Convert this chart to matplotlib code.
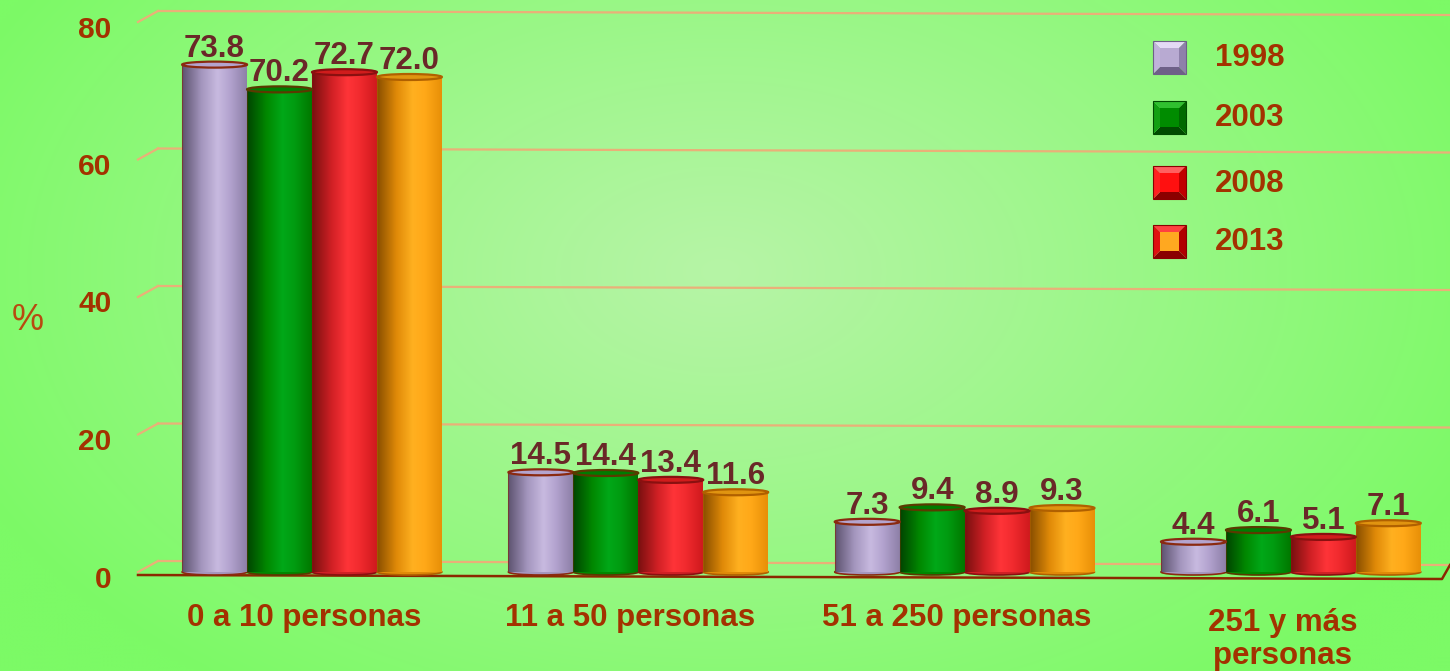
import numpy as np
import matplotlib
matplotlib.use('Agg')
import matplotlib.pyplot as plt
from matplotlib.patches import Ellipse, Polygon, Rectangle
from matplotlib.colors import LinearSegmentedColormap, to_rgb
from matplotlib.transforms import ScaledTranslation

plt.rcParams['font.family'] = ['Liberation Sans', 'DejaVu Sans']

categories = ['0 a 10 personas', '11 a 50 personas', '51 a 250 personas', '251 y más\npersonas']
years = ['1998', '2003', '2008', '2013']
v1998 = [73.8, 14.5, 7.3, 4.4]
v2003 = [70.2, 14.4, 9.4, 6.1]
v2008 = [72.7, 13.4, 8.9, 5.1]
v2013 = [72.0, 11.6, 9.3, 7.1]
series = [v1998, v2003, v2008, v2013]
yticks = [0, 20, 40, 60, 80]

# cylinder shading (left -> right)
grads = [
    ['#5E5470', '#A496BE', '#C8BAE0', '#B2A2CE', '#8E80A8'],
    ['#004600', '#008800', '#00A818', '#009A10', '#007800'],
    ['#7A1010', '#D02025', '#FF3438', '#F02A2E', '#D01A1E'],
    ['#8A5000', '#E08A08', '#FFB020', '#FFA818', '#E89008'],
]
tops = ['#B4A4CE', '#007C00', '#D01C1C', '#E09410']
rims = ['#8A2A10', '#5A3A00', '#8A1010', '#B06000']
# legend bevels: top, left, right, bottom, face
bevels = [
    ['#E4DAF6', '#C0B2DA', '#8E80AA', '#6E6088', '#B8AAD2'],
    ['#30C030', '#12A012', '#006A00', '#004C00', '#008C00'],
    ['#FF6060', '#FF2020', '#C00000', '#8A0000', '#FF1010'],
    ['#FF4040', '#E01010', '#B00000', '#8A0000', '#FFA820'],
]

W, H = 1450, 671
fig = plt.figure(figsize=(W / 100, H / 100), dpi=100)

# background radial gradient
bg = fig.add_axes([0, 0, 1, 1], zorder=0)
yy, xx = np.mgrid[0:H:4, 0:W:4]
r = np.sqrt(((xx - 720) / 820.0) ** 2 + ((yy - 270) / 520.0) ** 2)
r = np.clip(r, 0, 1) ** 1.1
c0 = np.array(to_rgb('#B6F4A6'))
c1 = np.array(to_rgb('#7CFA66'))
img = c0[None, None, :] * (1 - r[..., None]) + c1[None, None, :] * r[..., None]
bg.imshow(img, extent=(0, W, H, 0), aspect='auto', interpolation='bilinear')
bg.set_xlim(0, W)
bg.set_ylim(H, 0)
bg.axis('off')

# main axes: pixel 572 -> y=0, 6.875 px per unit; group spacing 326.3 px
ppu = 6.875
gsp = 326.3
ymin, ymax = -2, 82
x_left, x_right = 138, 1450
xmin = (x_left - 312) / gsp
xmax = (x_right - 312) / gsp
ybot_px = 572 - ppu * ymin
ytop_px = 572 - ppu * ymax
ax = fig.add_axes([x_left / W, (H - ybot_px) / H, (x_right - x_left) / W, (ybot_px - ytop_px) / H], zorder=1)
ax.patch.set_alpha(0)
for s in ax.spines.values():
    s.set_visible(False)

grid_c = '#EAB078'
xback = (158 - 312) / gsp
dy_back = 11 / ppu
tilt = 4 / ppu
for t in yticks:
    ax.plot([xmin, xback], [t, t + dy_back], color=grid_c, lw=1.6, zorder=1, clip_on=False)
    ax.plot([xback, xmax], [t + dy_back, t + dy_back - tilt], color=grid_c, lw=1.6, zorder=1, clip_on=False)
# floor front edge
ax.plot([xmin, (1442 - 312) / gsp, xmax], [-3 / ppu, -7 / ppu, dy_back - tilt], color='#8B2800', lw=1.8,
        zorder=1.5, clip_on=False)

bw = 0.199
ell_h = 6 / ppu
centers = np.arange(len(categories))
for j, vals in enumerate(series):
    cmap = LinearSegmentedColormap.from_list('c%d' % j, list(zip([0, 0.3, 0.55, 0.75, 1.0], grads[j])))
    grad = np.linspace(0, 1, 64)[None, :]
    for i, v in enumerate(vals):
        xc = centers[i] + (j - 1.5) * bw
        x0, x1 = xc - bw / 2, xc + bw / 2
        ax.add_patch(Ellipse((xc, 0), bw, ell_h, facecolor=grads[j][1], edgecolor=rims[j], lw=1.2, zorder=2))
        ax.imshow(grad, cmap=cmap, extent=(x0, x1, 0, v), aspect='auto', zorder=3, interpolation='bilinear')
        ax.plot([x0, x0], [0, v], color=rims[j], lw=0.8, alpha=0.6, zorder=3.2)
        ax.add_patch(Ellipse((xc, v), bw, ell_h, facecolor=tops[j], edgecolor=rims[j], lw=1.6, zorder=4))
        ax.annotate(f'{v:.1f}', (xc, v), xytext=(0, 8), textcoords='offset pixels', ha='center',
                    va='baseline', fontsize=22.5, fontweight='bold', color='#6A2828', zorder=5)

ax.set_xlim(xmin, xmax)
ax.set_ylim(ymin, ymax)
ax.set_yticks(yticks)
ax.set_yticklabels([str(t) for t in yticks], fontsize=21.5, fontweight='bold', color='#A33200')
ax.set_xticks(centers)
ax.set_xticklabels(categories, fontsize=22.5, fontweight='bold', color='#A33200', linespacing=1.12)
ax.tick_params(axis='y', length=0, pad=19)
ax.tick_params(axis='x', length=0, pad=12.5)
for lbl in ax.get_yticklabels():
    lbl.set_transform(lbl.get_transform() + ScaledTranslation(0, -0.045, fig.dpi_scale_trans))
for k, lbl in enumerate(ax.get_xticklabels()):
    dy = -0.05 if '\n' in categories[k] else 0
    lbl.set_transform(lbl.get_transform() + ScaledTranslation(-0.08, dy, fig.dpi_scale_trans))

# overlay in pixel coords: % label and legend
ov = fig.add_axes([0, 0, 1, 1], zorder=2)
ov.patch.set_alpha(0)
ov.set_xlim(0, W)
ov.set_ylim(H, 0)
ov.axis('off')
ov.text(28, 320, '%', fontsize=26, color='#B84A10', ha='center', va='center')

sq = 33
leg_y = [41, 101, 166, 225]
lx = 1153
for k, (yr, yt) in enumerate(zip(years, leg_y)):
    topc, leftc, rightc, botc, face = bevels[k]
    ins = 7
    o = [(lx, yt), (lx + sq, yt), (lx + sq, yt + sq), (lx, yt + sq)]
    n = [(lx + ins, yt + ins), (lx + sq - ins, yt + ins), (lx + sq - ins, yt + sq - ins), (lx + ins, yt + sq - ins)]
    ov.add_patch(Polygon([o[0], o[1], n[1], n[0]], closed=True, facecolor=topc, edgecolor='none'))
    ov.add_patch(Polygon([o[1], o[2], n[2], n[1]], closed=True, facecolor=rightc, edgecolor='none'))
    ov.add_patch(Polygon([o[2], o[3], n[3], n[2]], closed=True, facecolor=botc, edgecolor='none'))
    ov.add_patch(Polygon([o[3], o[0], n[0], n[3]], closed=True, facecolor=leftc, edgecolor='none'))
    ov.add_patch(Polygon(n, closed=True, facecolor=face, edgecolor='none'))
    ov.add_patch(Rectangle((lx, yt), sq, sq, facecolor='none', edgecolor=botc, lw=0.8))
    ov.text(1215, yt + sq / 2 + 1, yr, fontsize=22.5, fontweight='bold', color='#A33200', ha='left', va='center')

fig.savefig('out.png', dpi=100)
